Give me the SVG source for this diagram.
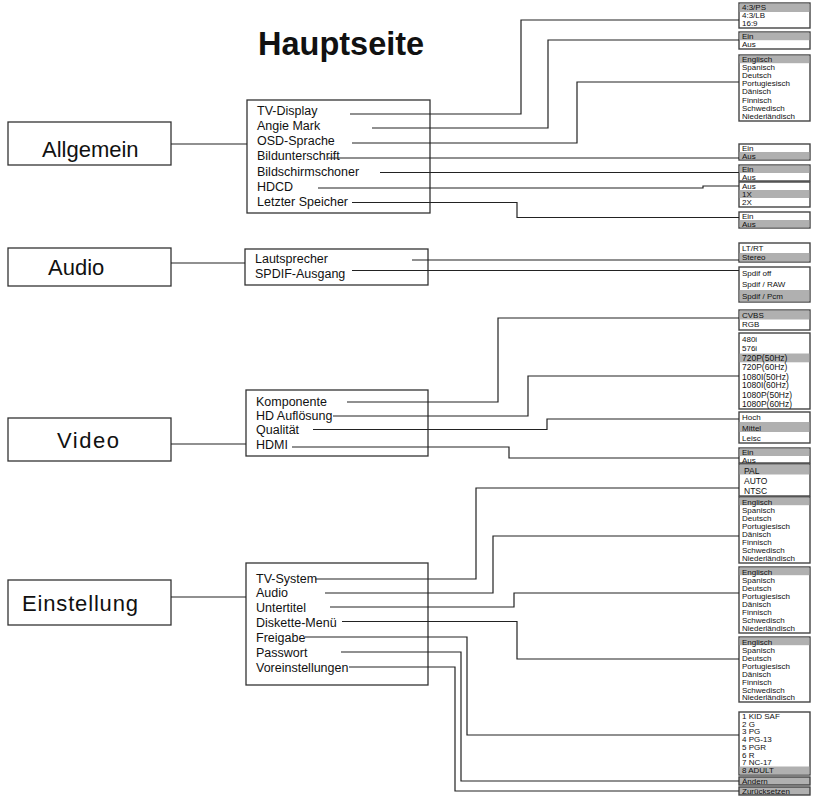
<svg xmlns="http://www.w3.org/2000/svg" width="813" height="797" viewBox="0 0 813 797">
<style>
text{font-family:"Liberation Sans",Arial,sans-serif;fill:#111}
.title{font-size:32.5px;font-weight:bold}
.main{font-size:22px}
.sub{font-size:12.5px}
.opt{font-size:8px}
.opt9{font-size:8.5px}
.box{fill:#fff;stroke:#333;stroke-width:1.3}
.obox{fill:#fff;stroke:#444;stroke-width:1.4}
.hl{fill:#b0b0b0}
.con path{fill:none;stroke:#222;stroke-width:1.2}
</style>
<rect width="813" height="797" fill="#fff"/>
<text class="title" x="258" y="55">Hauptseite</text>

<g id="allgemein"><rect class="box" x="8" y="122" width="163" height="43"/><text class="main" x="42" y="157">Allgemein</text></g>
<g id="audio"><rect class="box" x="8" y="248" width="163" height="38"/><text class="main" x="48" y="275">Audio</text></g>
<g id="video"><rect class="box" x="8" y="418" width="163" height="43"/><text class="main" x="57" y="448" textLength="62">Video</text></g>
<g id="einstellung"><rect class="box" x="8" y="580" width="163" height="45"/><text class="main" x="22" y="611" textLength="116">Einstellung</text></g>

<g id="allgemein-menu"><rect class="box" x="247" y="100" width="183" height="113"/>
<text class="sub" x="257" y="114.5">TV-Display</text>
<text class="sub" x="257" y="130">Angie Mark</text>
<text class="sub" x="257" y="145">OSD-Sprache</text>
<text class="sub" x="257" y="160">Bildunterschrift</text>
<text class="sub" x="257" y="175.5">Bildschirmschoner</text>
<text class="sub" x="257" y="190.5">HDCD</text>
<text class="sub" x="257" y="206">Letzter Speicher</text>
</g>
<g id="audio-menu"><rect class="box" x="245" y="249" width="183" height="36"/>
<text class="sub" x="255" y="262.5">Lautsprecher</text>
<text class="sub" x="255" y="277.5">SPDIF-Ausgang</text>
</g>
<g id="video-menu"><rect class="box" x="246" y="390" width="182" height="66"/>
<text class="sub" x="256" y="405.5">Komponente</text>
<text class="sub" x="256" y="419.5">HD Auflösung</text>
<text class="sub" x="256" y="434">Qualität</text>
<text class="sub" x="256" y="448.5">HDMI</text>
</g>
<g id="einstellung-menu"><rect class="box" x="246" y="563" width="182" height="122"/>
<text class="sub" x="256" y="582.5">TV-System</text>
<text class="sub" x="256" y="597">Audio</text>
<text class="sub" x="256" y="611.5">Untertitel</text>
<text class="sub" x="256" y="626.5">Diskette-Menü</text>
<text class="sub" x="256" y="641.5">Freigabe</text>
<text class="sub" x="256" y="656.5">Passwort</text>
<text class="sub" x="256" y="671.5">Voreinstellungen</text>
</g>

<g id="opt-tvdisplay"><rect class="obox" x="739" y="3" width="71" height="25"/><rect class="hl" x="739.7" y="3.7" width="69.6" height="8.3"/>
<text class="opt" x="742" y="9.7">4:3/PS</text><text class="opt" x="742" y="17.8">4:3/LB</text><text class="opt" x="742" y="25.5">16:9</text></g>
<g id="opt-angie"><rect class="obox" x="739" y="32" width="71" height="17"/><rect class="hl" x="739.7" y="32.7" width="69.6" height="7.5"/>
<text class="opt" x="742" y="39">Ein</text><text class="opt" x="742" y="47">Aus</text></g>
<g id="opt-osd"><rect class="obox" x="739" y="55" width="71" height="66"/><rect class="hl" x="739.7" y="55.7" width="69.6" height="7.5"/>
<text class="opt" x="742" y="62">Englisch</text><text class="opt" x="742" y="70">Spanisch</text><text class="opt" x="742" y="78.2">Deutsch</text><text class="opt" x="742" y="86.3">Portugiesisch</text><text class="opt" x="742" y="94.4">Dänisch</text><text class="opt" x="742" y="102.5">Finnisch</text><text class="opt" x="742" y="110.6">Schwedisch</text><text class="opt" x="742" y="118.7">Niederländisch</text></g>
<g id="opt-bildunterschrift"><rect class="obox" x="739" y="144" width="71" height="16"/><rect class="hl" x="739.7" y="152" width="69.6" height="7.3"/>
<text class="opt" x="742" y="151">Ein</text><text class="opt" x="742" y="159">Aus</text></g>
<g id="opt-bildschirmschoner"><rect class="obox" x="739" y="165" width="71" height="16"/><rect class="hl" x="739.7" y="165.7" width="69.6" height="7.3"/>
<text class="opt" x="742" y="172">Ein</text><text class="opt" x="742" y="180">Aus</text></g>
<g id="opt-hdcd"><rect class="obox" x="739" y="182" width="71" height="25"/><rect class="hl" x="739.7" y="190" width="69.6" height="8"/>
<text class="opt" x="742" y="189">Aus</text><text class="opt" x="742" y="197">1X</text><text class="opt" x="742" y="205">2X</text></g>
<g id="opt-speicher"><rect class="obox" x="739" y="212" width="71" height="16"/><rect class="hl" x="739.7" y="220" width="69.6" height="7.3"/>
<text class="opt" x="742" y="219">Ein</text><text class="opt" x="742" y="227">Aus</text></g>

<g id="opt-lautsprecher"><rect class="obox" x="739" y="243" width="71" height="19"/><rect class="hl" x="739.7" y="253" width="69.6" height="8.3"/>
<text class="opt" x="742" y="251">LT/RT</text><text class="opt" x="742" y="260">Stereo</text></g>
<g id="opt-spdif"><rect class="obox" x="739" y="267" width="71" height="35"/><rect class="hl" x="739.7" y="290" width="69.6" height="11.3"/>
<text class="opt" x="742" y="275.5">Spdif off</text><text class="opt" x="742" y="287">Spdif / RAW</text><text class="opt" x="742" y="298.5">Spdif / Pcm</text></g>

<g id="opt-komponente"><rect class="obox" x="739" y="310" width="71" height="20"/><rect class="hl" x="739.7" y="310.7" width="69.6" height="8.8"/>
<text class="opt" x="742" y="317.5">CVBS</text><text class="opt" x="742" y="327">RGB</text></g>
<g id="opt-aufloesung"><rect class="obox" x="739" y="333" width="71" height="76"/><rect class="hl" x="739.7" y="353.5" width="69.6" height="8.8"/>
<text class="opt" x="742" y="342.3">480i</text><text class="opt" x="742" y="350.5">576i</text><text class="opt9" x="742" y="361">720P(50Hz)</text><text class="opt9" x="742" y="370">720P(60Hz)</text><text class="opt9" x="742" y="379.5">1080I(50Hz)</text><text class="opt9" x="742" y="388.3">1080I(60Hz)</text><text class="opt9" x="742" y="398">1080P(50Hz)</text><text class="opt9" x="742" y="406.5">1080P(60Hz)</text></g>
<g id="opt-qualitaet"><rect class="obox" x="739" y="412" width="71" height="31"/><rect class="hl" x="739.7" y="422" width="69.6" height="10"/>
<text class="opt" x="742" y="420">Hoch</text><text class="opt" x="742" y="430.5">Mittel</text><text class="opt" x="742" y="440.5">Leisc</text></g>
<g id="opt-hdmi"><rect class="obox" x="739" y="448" width="71" height="15"/><rect class="hl" x="739.7" y="448.7" width="69.6" height="7.3"/>
<text class="opt" x="742" y="455">Ein</text><text class="opt" x="742" y="462.5">Aus</text></g>

<g id="opt-tvsystem"><rect class="obox" x="739" y="464" width="71" height="32"/><rect class="hl" x="739.7" y="464.7" width="69.6" height="9.8"/>
<text class="opt9" x="744" y="473.5">PAL</text><text class="opt9" x="744" y="484">AUTO</text><text class="opt9" x="744" y="493.5">NTSC</text></g>
<g id="opt-audio-lang"><rect class="obox" x="739" y="497" width="71" height="66"/><rect class="hl" x="739.7" y="497.7" width="69.6" height="7.5"/>
<text class="opt" x="742" y="504.5">Englisch</text><text class="opt" x="742" y="513">Spanisch</text><text class="opt" x="742" y="521">Deutsch</text><text class="opt" x="742" y="529">Portugiesisch</text><text class="opt" x="742" y="537">Dänisch</text><text class="opt" x="742" y="545">Finnisch</text><text class="opt" x="742" y="553">Schwedisch</text><text class="opt" x="742" y="561">Niederländisch</text></g>
<g id="opt-untertitel"><rect class="obox" x="739" y="567" width="71" height="66"/><rect class="hl" x="739.7" y="567.7" width="69.6" height="7.5"/>
<text class="opt" x="742" y="574.5">Englisch</text><text class="opt" x="742" y="583">Spanisch</text><text class="opt" x="742" y="591">Deutsch</text><text class="opt" x="742" y="599">Portugiesisch</text><text class="opt" x="742" y="607">Dänisch</text><text class="opt" x="742" y="615">Finnisch</text><text class="opt" x="742" y="623">Schwedisch</text><text class="opt" x="742" y="631">Niederländisch</text></g>
<g id="opt-diskette"><rect class="obox" x="739" y="637" width="71" height="65"/><rect class="hl" x="739.7" y="637.7" width="69.6" height="7.5"/>
<text class="opt" x="742" y="644.5">Englisch</text><text class="opt" x="742" y="652.5">Spanisch</text><text class="opt" x="742" y="660.5">Deutsch</text><text class="opt" x="742" y="668.5">Portugiesisch</text><text class="opt" x="742" y="676.5">Dänisch</text><text class="opt" x="742" y="684.5">Finnisch</text><text class="opt" x="742" y="692.5">Schwedisch</text><text class="opt" x="742" y="700">Niederländisch</text></g>
<g id="opt-freigabe"><rect class="obox" x="739" y="712" width="71" height="63"/><rect class="hl" x="739.7" y="766.5" width="69.6" height="7.8"/>
<text class="opt" x="742" y="719">1 KID SAF</text><text class="opt" x="742" y="726.7">2 G</text><text class="opt" x="742" y="734.4">3 PG</text><text class="opt" x="742" y="742.1">4 PG-13</text><text class="opt" x="742" y="749.8">5 PGR</text><text class="opt" x="742" y="757.5">6 R</text><text class="opt" x="742" y="765">7 NC-17</text><text class="opt" x="742" y="773.3">8 ADULT</text></g>
<g id="opt-passwort"><rect class="obox hl" x="739" y="777" width="71" height="8"/><text class="opt" x="742" y="783.7">Ändern</text></g>
<g id="opt-voreinstellungen"><rect class="obox hl" x="739" y="787" width="71" height="8"/><text class="opt" x="742" y="793.7">Zurücksetzen</text></g>

<g id="connectors" class="con">
<path d="M171,144 H247"/>
<path d="M171,263 H245"/>
<path d="M171,444 H246"/>
<path d="M171,597 H246"/>
<path d="M350,114 H521 V20 H739"/>
<path d="M372,128 H548 V40 H739"/>
<path d="M352,143 H577 V82 H739"/>
<path d="M328,158 H739"/>
<path d="M380,172.5 H739"/>
<path d="M318,188 H703 V186 H739"/>
<path d="M352,202.5 H517 V217.5 H739"/>
<path d="M412,260 H739"/>
<path d="M352,270.5 H739"/>
<path d="M347,402 H498 V318 H739"/>
<path d="M333,416 H528 V376 H739"/>
<path d="M313,429.5 H547 V419 H739"/>
<path d="M292,447 H509 V458 H739"/>
<path d="M315,579 H476 V488 H739"/>
<path d="M325,593 H493 V536 H739"/>
<path d="M330,607 H514 V593 H739"/>
<path d="M342,621.5 H517 V659 H739"/>
<path d="M305,637 H467 V735 H739"/>
<path d="M341,652 H461 V781 H739"/>
<path d="M349,667 H455 V791 H739"/>
</g>
</svg>
